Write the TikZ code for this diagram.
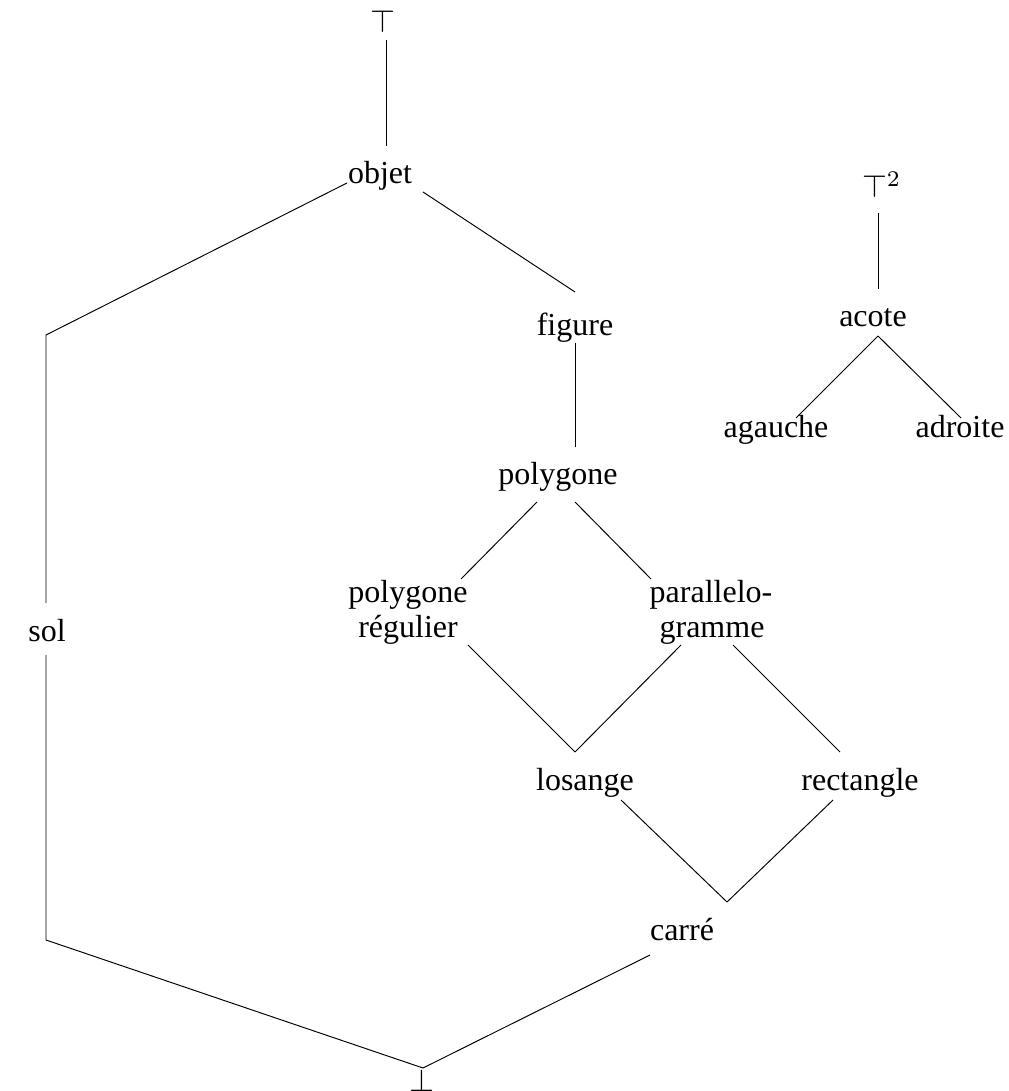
\documentclass[tikz,border=0pt]{standalone}
\usepackage{fontspec}
\setmainfont{Liberation Serif}
\begin{document}
\begin{tikzpicture}[x=0.3125pt,y=-0.3125pt,
  lbl/.style={inner sep=0pt,outer sep=0pt,anchor=base},
  conn/.style={line width=0.3pt,black}]
\useasboundingbox (0,0) rectangle (1008,1091);
% nodes
\node[lbl] (top) at (383,33) {$\top$};
\node[lbl] (objet) at (380,184) {objet};
\node[lbl] (figure) at (575,336) {figure};
\node[lbl] (poly) at (558,485) {polygone};
\node[lbl] (preg) at (408,602) {polygone};
\node[lbl] (pregb) at (408,637) {régulier};
\node[lbl] (para) at (711,602) {parallelo-};
\node[lbl] (parab) at (712,637) {gramme};
\node[lbl] (sol) at (47,641) {sol};
\node[lbl] (losange) at (585,790) {losange};
\node[lbl] (rect) at (860,790) {rectangle};
\node[lbl] (carre) at (682,940) {carré};
\node[lbl] (bot) at (422,1091) {$\bot$};
\node[lbl,anchor=base west] (toptwo) at (862,198) {$\top^2$};
\node[lbl] (acote) at (873,327) {acote};
\node[lbl] (agauche) at (776,438) {agauche};
\node[lbl] (adroite) at (960,438) {adroite};
% connector end points
\coordinate (topS) at (386,40);
\coordinate (objN) at (386,146);
\coordinate (objW) at (347,183);
\coordinate (solTurnA) at (46,335);
\coordinate (solN) at (46,603);
\coordinate (solS) at (46,655);
\coordinate (solTurnB) at (46,940);
\coordinate (botN) at (423,1068);
\coordinate (objE) at (423,192);
\coordinate (figN) at (575,292);
\coordinate (figS) at (575,343);
\coordinate (polyN) at (575,447);
\coordinate (polySW) at (537,502);
\coordinate (polySE) at (575,502);
\coordinate (pregN) at (461,579);
\coordinate (paraN) at (651,579);
\coordinate (pregS) at (468,645);
\coordinate (paraSW) at (681,645);
\coordinate (paraSE) at (733,645);
\coordinate (losN) at (575,752);
\coordinate (rectN) at (840,752);
\coordinate (losS) at (621,800);
\coordinate (rectS) at (833,800);
\coordinate (carN) at (727,902);
\coordinate (carS) at (650,955);
\coordinate (toptwoS) at (878,213);
\coordinate (acoteN) at (878,289);
\coordinate (acoteS) at (878,336);
\coordinate (agN) at (796,418);
\coordinate (adN) at (961,418);
% connectors
\draw[conn] (topS) -- (objN);
\draw[conn] (objW) -- (solTurnA) -- (solN);
\draw[conn] (solS) -- (solTurnB) -- (botN);
\draw[conn] (objE) -- (figN);
\draw[conn] (figS) -- (polyN);
\draw[conn] (polySW) -- (pregN);
\draw[conn] (polySE) -- (paraN);
\draw[conn] (pregS) -- (losN);
\draw[conn] (paraSW) -- (losN);
\draw[conn] (paraSE) -- (rectN);
\draw[conn] (losS) -- (carN);
\draw[conn] (rectS) -- (carN);
\draw[conn] (carS) -- (botN);
\draw[conn] (toptwoS) -- (acoteN);
\draw[conn] (acoteS) -- (agN);
\draw[conn] (acoteS) -- (adN);
\end{tikzpicture}
\end{document}
